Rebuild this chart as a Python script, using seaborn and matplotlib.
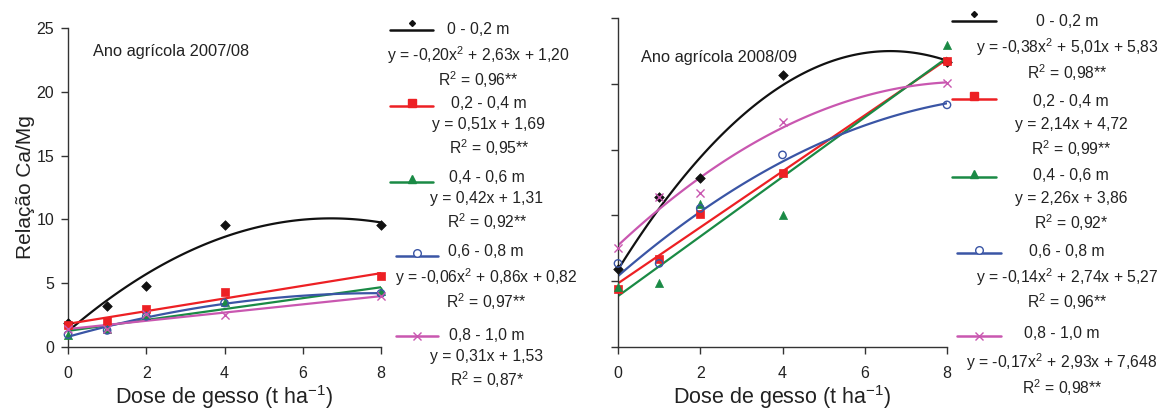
import matplotlib
matplotlib.use("Agg")
import matplotlib.pyplot as plt
import seaborn as sns
import pandas as pd
import numpy as np
from matplotlib.lines import Line2D

sns.set_theme(style="ticks")
plt.rcParams['font.family'] = ['Liberation Sans', 'DejaVu Sans']
plt.rcParams['mathtext.fontset'] = 'custom'
plt.rcParams['mathtext.rm'] = 'Liberation Sans'
plt.rcParams['mathtext.it'] = 'Liberation Sans:italic'

# ---------------- data ----------------
doses = [0, 1, 2, 4, 8]
layers = ["0 - 0,2 m", "0,2 - 0,4 m", "0,4 - 0,6 m", "0,6 - 0,8 m", "0,8 - 1,0 m"]

# 2007/08
y07_l1 = [1.88, 3.20, 4.78, 9.53, 9.60]
y07_l2 = [1.70, 2.00, 3.00, 4.30, 5.53]
y07_l3 = [0.97, 1.40, 2.50, 3.50, 4.36]
y07_l4 = [0.97, 1.30, 2.40, 3.45, 4.20]
y07_l5 = [1.40, 1.40, 2.60, 2.48, 4.00]
order07 = [2, 1, 1, 2, 1]
eq07 = ["y = -0,20x$^2$ + 2,63x + 1,20", "y = 0,51x + 1,69", "y = 0,42x + 1,31",
        "y = -0,06x$^2$ + 0,86x + 0,82", "y = 0,31x + 1,53"]
r2_07 = ["R$^2$ = 0,96**", "R$^2$ = 0,95**", "R$^2$ = 0,92**", "R$^2$ = 0,97**", "R$^2$ = 0,87*"]

# 2008/09
y08_l1 = [5.89, 11.37, 12.87, 20.66, 21.65]
y08_l2 = [4.42, 6.65, 10.08, 13.25, 21.70]
y08_l3 = [4.57, 4.87, 10.86, 10.03, 22.97]
y08_l4 = [6.35, 6.35, 10.53, 14.60, 18.40]
y08_l5 = [7.56, 11.37, 11.73, 17.13, 20.05]
order08 = [2, 1, 1, 2, 2]
eq08 = ["y = -0,38x$^2$ + 5,01x + 5,83", "y = 2,14x + 4,72", "y = 2,26x + 3,86",
        "y = -0,14x$^2$ + 2,74x + 5,27", "y = -0,17x$^2$ + 2,93x + 7,648"]
r2_08 = ["R$^2$ = 0,98**", "R$^2$ = 0,99**", "R$^2$ = 0,92*", "R$^2$ = 0,96**", "R$^2$ = 0,98**"]

colors = ["#111111", "#ED2024", "#1A8A45", "#3A55A5", "#C957B0"]
markers = ["D", "s", "^", "o", "x"]
msizes = [24, 30, 34, 28, 34]

W, H = 1171, 409
fig = plt.figure(figsize=(W / 100, H / 100), dpi=100)

def px_rect(x0, x1, ytop, ybot):
    return [x0 / W, 1 - ybot / H, (x1 - x0) / W, (ybot - ytop) / H]

ax1 = fig.add_axes(px_rect(68, 381, 28, 347))
ax2 = fig.add_axes(px_rect(618, 947, 18, 347))

def draw_panel(ax, ys, orders):
    for i, yv in enumerate(ys):
        df = pd.DataFrame({"x": doses, "y": yv})
        sns.regplot(data=df, x="x", y="y", ax=ax, order=orders[i], ci=None,
                    scatter=False, truncate=True,
                    line_kws=dict(color=colors[i], lw=1.6))
        if markers[i] == "o":
            sns.scatterplot(data=df, x="x", y="y", ax=ax, marker="o", s=msizes[i],
                            facecolor="none", edgecolor=colors[i], linewidth=1.0,
                            zorder=5, clip_on=False)
        elif markers[i] == "x":
            sns.scatterplot(data=df, x="x", y="y", ax=ax, marker="x", s=msizes[i],
                            color=colors[i], linewidth=1.0, zorder=5, clip_on=False)
        else:
            sns.scatterplot(data=df, x="x", y="y", ax=ax, marker=markers[i], s=msizes[i],
                            color=colors[i], edgecolor=colors[i], linewidth=0.5,
                            zorder=5, clip_on=False)
    ax.set_xlim(0, 8)
    ax.set_ylim(0, 25)
    ax.set_xticks([0, 2, 4, 6, 8])
    ax.set_yticks([0, 5, 10, 15, 20, 25])
    sns.despine(ax=ax)
    for s in ["left", "bottom"]:
        ax.spines[s].set_color("#333333")
        ax.spines[s].set_linewidth(1.0)
    ax.tick_params(direction="out", length=5, width=1.0, color="#333333",
                   labelsize=11.5, labelcolor="#222222")
    ax.tick_params(axis="x", pad=9)
    ax.tick_params(axis="y", pad=5)
    ax.set_xlabel("Dose de gesso (t ha$^{-1}$)", fontsize=15.5, color="#222222", labelpad=1)

draw_panel(ax1, [y07_l1, y07_l2, y07_l3, y07_l4, y07_l5], order07)
draw_panel(ax2, [y08_l1, y08_l2, y08_l3, y08_l4, y08_l5], order08)

ax1.set_ylabel("Relação Ca/Mg", fontsize=15, color="#222222", labelpad=1)
ax2.set_ylabel("")
ax2.set_yticklabels([])

ax1.text(0.08, 0.925, "Ano agrícola 2007/08", transform=ax1.transAxes,
         fontsize=11.8, color="#222222", va="center", ha="left")
ax2.text(0.07, 0.88, "Ano agrícola 2008/09", transform=ax2.transAxes,
         fontsize=11.8, color="#222222", va="center", ha="left")

# ---------------- legends (in figure pixel coords) ----------------
def fx(x):
    return x / W

def fy(y):
    return 1 - y / H

def legend_block(hx0, hx1, entries, eqs, r2s):
    for i, (hy, ly, cx, ey, ry) in enumerate(entries):
        fig.add_artist(Line2D([fx(hx0[i]), fx(hx1[i])], [fy(hy), fy(hy)],
                              color=colors[i], lw=1.8))
        mid = (hx0[i] + hx1[i]) / 2
        if markers[i] == "o":
            fig.add_artist(Line2D([fx(mid)], [fy(hy - 3)], marker="o", ms=5.5,
                                  mfc="white", mec=colors[i], mew=1.0, ls="none"))
        elif markers[i] == "x":
            fig.add_artist(Line2D([fx(mid)], [fy(hy)], marker="x", ms=6,
                                  color=colors[i], mew=1.0, ls="none"))
        elif markers[i] == "D":
            fig.add_artist(Line2D([fx(mid)], [fy(hy - 7)], marker="D", ms=3,
                                  color=colors[i], ls="none"))
        elif markers[i] == "s":
            fig.add_artist(Line2D([fx(mid)], [fy(hy - 3)], marker="s", ms=6,
                                  color=colors[i], ls="none"))
        else:
            fig.add_artist(Line2D([fx(mid)], [fy(hy - 3)], marker="^", ms=5.5,
                                  color=colors[i], ls="none"))
        fig.text(fx(cx), fy(ly), layers[i], ha="center", va="center",
                 fontsize=11.3, color="#222222")
        fig.text(fx(cx), fy(ey), eqs[i], ha="center", va="center",
                 fontsize=11.3, color="#222222")
        fig.text(fx(cx), fy(ry), r2s[i], ha="center", va="center",
                 fontsize=11.3, color="#222222")

# left legend: (handle y, label y, center x, eq y, r2 y)
entries07 = [(30, 30, 478, 55, 80),
             (106, 103, 489, 124, 148),
             (182, 177, 487, 198, 222),
             (256, 251, 486, 277, 302),
             (336, 335, 487, 357, 380)]
legend_block([390, 390, 390, 396, 396], [433, 433, 433, 438, 438], entries07, eq07, r2_07)

entries08 = [(21, 21, 1067, 47, 73),
             (99, 101, 1071, 124, 149),
             (177, 176, 1071, 198, 223),
             (253, 251, 1067, 277, 302),
             (336, 334, 1062, 362, 388)]
legend_block([952, 952, 952, 957, 957], [996, 996, 996, 1001, 1001], entries08, eq08, r2_08)

fig.savefig("out.png", dpi=100)
